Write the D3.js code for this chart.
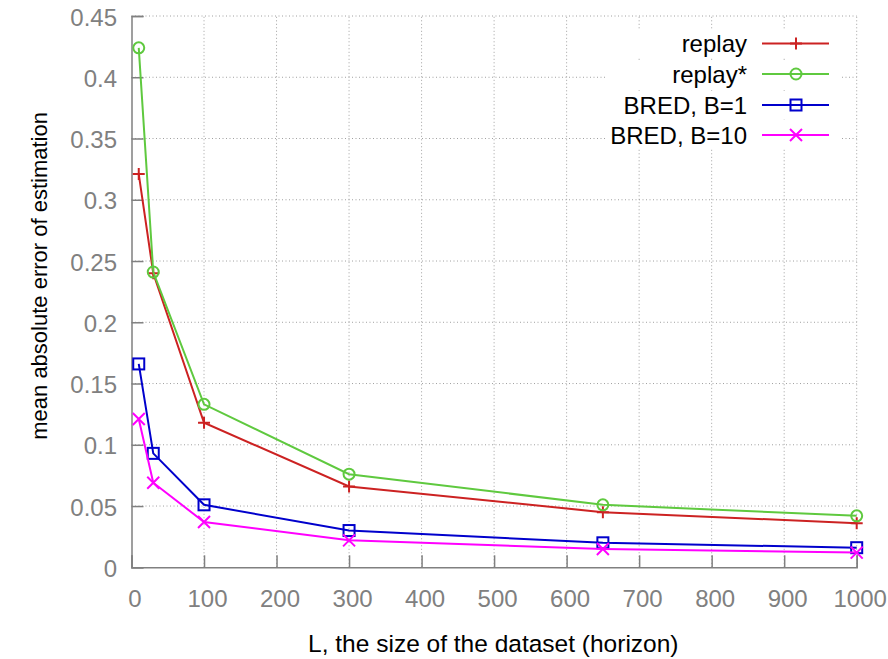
<!DOCTYPE html>
<html><head><meta charset="utf-8">
<script src="https://cdn.jsdelivr.net/npm/d3@7"></script>
<style>body{margin:0;background:#fff}svg{display:block}text{font-family:"Liberation Sans",Arial,sans-serif}</style>
</head><body><svg id="c" width="888" height="659"></svg>
<script>
const xValues = [10, 30, 100, 300, 650, 1000];
const replay = [0.321, 0.240, 0.118, 0.066, 0.045, 0.036];
const replayStar = [0.424, 0.241, 0.133, 0.076, 0.051, 0.042];
const bred1 = [0.166, 0.093, 0.051, 0.030, 0.020, 0.016];
const bred10 = [0.121, 0.069, 0.037, 0.022, 0.015, 0.012];
const seriesNames = ["replay", "replay*", "BRED, B=1", "BRED, B=10"];
const xTicks = [0,100,200,300,400,500,600,700,800,900,1000];
const yTicks = [0,0.05,0.1,0.15,0.2,0.25,0.3,0.35,0.4,0.45];
const xTitle = "L, the size of the dataset (horizon)";
const yTitle = "mean absolute error of estimation";

const series = [
  {name: seriesNames[0], values: replay, color: "#cc2222", marker: "plus"},
  {name: seriesNames[1], values: replayStar, color: "#5fc93f", marker: "circle"},
  {name: seriesNames[2], values: bred1, color: "#0000cc", marker: "square"},
  {name: seriesNames[3], values: bred10, color: "#ff00ff", marker: "cross"}
];

const svg = d3.select("#c");
const L = 131.5, R = 856.7, T = 16, B = 567.3;
const x = d3.scaleLinear().domain([0, 1000]).range([L, R]);
const y = d3.scaleLinear().domain([0, 0.45]).range([B, T]);
const gray = "#808080";
const fs = 24;

// grid
const grid = svg.append("g");
xTicks.forEach(t => { if (t !== 0) grid.append("line").attr("x1", x(t)).attr("x2", x(t)).attr("y1", B).attr("y2", T)
  .attr("stroke", "#a0a0a0").attr("stroke-width", 1).attr("stroke-dasharray", "1,2.5"); });
yTicks.forEach(t => { if (t !== 0) grid.append("line").attr("x1", L).attr("x2", R).attr("y1", y(t)).attr("y2", y(t))
  .attr("stroke", "#a0a0a0").attr("stroke-width", 1).attr("stroke-dasharray", "1,2.5"); });

// axes
const yAxis = d3.axisLeft(y).tickValues(yTicks).tickSize(-12).tickPadding(14.5).tickFormat(d => d3.format("")(+d.toFixed(2)));
const gy = svg.append("g").attr("transform", `translate(${L},0)`).call(yAxis);
const xAxis = d3.axisBottom(x).tickValues(xTicks).tickSize(-12).tickPadding(22.4).tickFormat(d3.format("d"));
const gx = svg.append("g").attr("transform", `translate(0,${B})`).call(xAxis);
[gx, gy].forEach(g => {
  g.select(".domain").attr("stroke", gray).attr("stroke-width", 1.5);
  g.selectAll(".tick line").attr("stroke", gray).attr("stroke-width", 1.5);
  g.selectAll(".tick text").attr("fill", gray).attr("font-size", fs).attr("font-family", "Liberation Sans, Arial, sans-serif");
});
gy.selectAll(".tick text").attr("dy", "0.38em");
gx.selectAll(".tick text").attr("dx", 3);

// titles
svg.append("text").attr("x", 493.3).attr("y", 651.7).attr("text-anchor", "middle")
  .attr("font-size", 24.5).attr("fill", "#000").text(xTitle);
svg.append("text").attr("transform", `translate(46.5,275.9) rotate(-90)`).attr("text-anchor", "middle")
  .attr("font-size", 22).attr("fill", "#000").text(yTitle);

function drawMarker(g, type, cx, cy, color) {
  const s = 6;
  if (type === "plus") {
    g.append("path").attr("d", `M${cx - s},${cy}H${cx + s}M${cx},${cy - s}V${cy + s}`).attr("stroke", color).attr("stroke-width", 2).attr("fill", "none");
  } else if (type === "circle") {
    g.append("circle").attr("cx", cx).attr("cy", cy).attr("r", 5.5).attr("stroke", color).attr("stroke-width", 2).attr("fill", "none");
  } else if (type === "square") {
    g.append("rect").attr("x", cx - 5.5).attr("y", cy - 5.5).attr("width", 11).attr("height", 11).attr("stroke", color).attr("stroke-width", 2).attr("fill", "none");
  } else {
    g.append("path").attr("d", `M${cx - s},${cy - s}L${cx + s},${cy + s}M${cx - s},${cy + s}L${cx + s},${cy - s}`).attr("stroke", color).attr("stroke-width", 2).attr("fill", "none");
  }
}

const line = d3.line().x(d => x(d[0])).y(d => y(d[1]));
series.forEach(s => {
  const pts = xValues.map((v, i) => [v, s.values[i]]);
  const g = svg.append("g");
  g.append("path").attr("d", line(pts)).attr("fill", "none").attr("stroke", s.color).attr("stroke-width", 2);
  pts.forEach(p => drawMarker(g, s.marker, x(p[0]), y(p[1]), s.color));
});

// legend
const legY = [43.5, 74, 105, 135];
series.forEach((s, i) => {
  svg.append("rect").attr("x", 605).attr("y", legY[i] - 14).attr("width", 235).attr("height", 28).attr("fill", "#fff");
});
series.forEach((s, i) => {
  const g = svg.append("g");
  g.append("text").attr("x", 747).attr("y", legY[i]).attr("dy", "0.36em").attr("text-anchor", "end")
    .attr("font-size", fs).attr("fill", "#000").text(s.name);
  g.append("line").attr("x1", 762).attr("x2", 829).attr("y1", legY[i]).attr("y2", legY[i]).attr("stroke", s.color).attr("stroke-width", 2);
  drawMarker(g, s.marker, 796, legY[i], s.color);
});
</script></body></html>
